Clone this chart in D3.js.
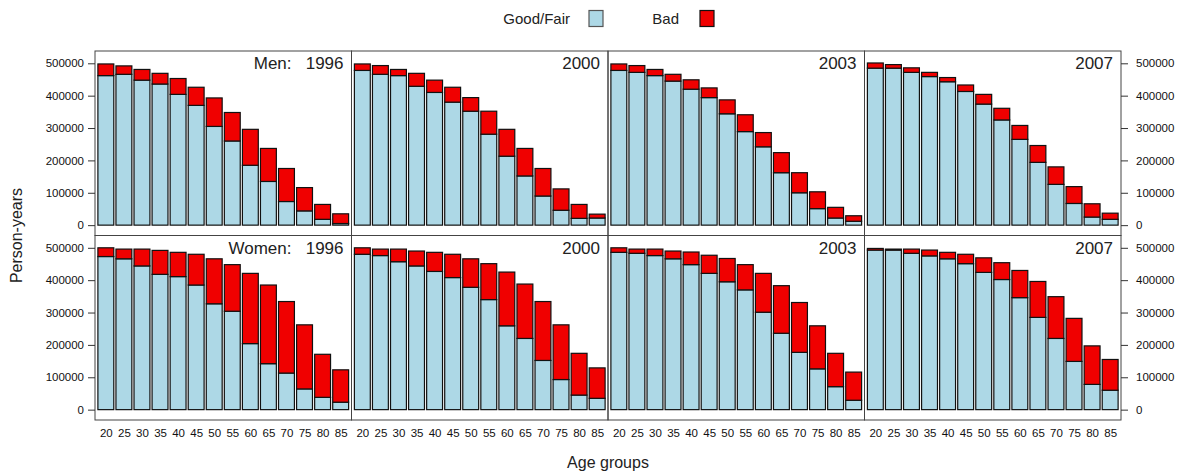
<!DOCTYPE html>
<html>
<head>
<meta charset="utf-8">
<script src="https://cdn.jsdelivr.net/npm/d3@7"></script>
<style>
  body { margin: 0; background: #fff; }
  svg { font-family: "Liberation Sans", Arial, sans-serif; }
</style>
</head>
<body>
<div id="chart"></div>
<script>
// age groups on the x axis
const ages = [20, 25, 30, 35, 40, 45, 50, 55, 60, 65, 70, 75, 80, 85];
const years = [1996, 2000, 2003, 2007];
const sexes = ["Men", "Women"];
const yTicks = [0, 100000, 200000, 300000, 400000, 500000];

// person-years
const men1996Good = [462000, 466000, 448000, 436000, 404000, 370000, 305000, 260000, 185000, 135000, 73000, 44000, 18000, 5000];
const men1996Bad = [36000, 26000, 33000, 33000, 49000, 56000, 88000, 88000, 111000, 102000, 102000, 72000, 46000, 30000];
const men2000Good = [478000, 466000, 462000, 429000, 410000, 380000, 352000, 281000, 213000, 152000, 90000, 46000, 21000, 22000];
const men2000Bad = [20000, 27000, 19000, 40000, 38000, 46000, 42000, 71000, 83000, 85000, 85000, 66000, 43000, 12000];
const men2003Good = [478000, 472000, 462000, 445000, 420000, 394000, 344000, 289000, 242000, 162000, 100000, 51000, 22000, 12000];
const men2003Bad = [20000, 21000, 19000, 21000, 29000, 30000, 43000, 52000, 44000, 62000, 62000, 52000, 33000, 17000];
const men2007Good = [485000, 485000, 472000, 459000, 443000, 413000, 374000, 325000, 265000, 194000, 126000, 67000, 25000, 18000];
const men2007Bad = [16000, 11000, 14000, 13000, 13000, 20000, 30000, 36000, 43000, 52000, 54000, 52000, 41000, 19000];
const women1996Good = [473000, 466000, 444000, 418000, 411000, 385000, 327000, 304000, 204000, 142000, 113000, 64000, 38000, 23000];
const women1996Bad = [27000, 30000, 52000, 74000, 75000, 95000, 139000, 144000, 217000, 243000, 221000, 198000, 133000, 100000];
const women2000Good = [480000, 476000, 457000, 444000, 427000, 408000, 378000, 340000, 259000, 220000, 152000, 93000, 45000, 35000];
const women2000Bad = [20000, 20000, 39000, 46000, 59000, 72000, 88000, 111000, 166000, 168000, 182000, 169000, 129000, 94000];
const women2003Good = [486000, 483000, 476000, 466000, 448000, 421000, 395000, 370000, 301000, 236000, 177000, 126000, 71000, 29000];
const women2003Bad = [14000, 13000, 20000, 24000, 39000, 56000, 72000, 78000, 120000, 147000, 154000, 133000, 103000, 87000];
const women2007Good = [493000, 493000, 483000, 475000, 466000, 451000, 424000, 402000, 346000, 285000, 220000, 149000, 78000, 60000];
const women2007Bad = [5000, 3000, 13000, 18000, 20000, 29000, 45000, 52000, 84000, 111000, 129000, 133000, 119000, 95000];

const series = {
    Men: {
        1996: [men1996Good, men1996Bad], 2000: [men2000Good, men2000Bad],
        2003: [men2003Good, men2003Bad], 2007: [men2007Good, men2007Bad]
    },
    Women: {
        1996: [women1996Good, women1996Bad], 2000: [women2000Good, women2000Bad],
        2003: [women2003Good, women2003Bad], 2007: [women2007Good, women2007Bad]
    }
};

const keys = ["good", "bad"];
const labels = { good: "Good/Fair", bad: "Bad" };
const colors = { good: "#add8e6", bad: "#f00000" };

const W = 1183, H = 473;
const padLeft = 95, padTop = 51;
const panelW = 1026 / 4, panelH = 184.5;

const svg = d3.select("#chart").append("svg")
    .attr("width", W)
    .attr("height", H);

const x = d3.scaleLinear().domain([0.4, 14.6]).range([0, panelW]);
const y = d3.scaleLinear().domain([-32000, 538000]).range([panelH, 0]);
const barW = (x(1) - x(0)) * 0.88;

const stack = d3.stack().keys(keys);

sexes.forEach((sex, r) => {
    years.forEach((year, c) => {
        const [good, bad] = series[sex][year];
        const rows = ages.map((a, i) => ({ age: a, idx: i + 1, good: good[i], bad: bad[i] }));
        const layers = stack(rows);

        const g = svg.append("g")
            .attr("transform", `translate(${padLeft + c * panelW}, ${padTop + r * panelH})`);

        layers.forEach(layer => {
            g.append("g").selectAll("rect")
                .data(layer)
                .join("rect")
                .attr("x", d => x(d.data.idx) - barW / 2)
                .attr("width", barW)
                .attr("y", d => y(d[1]))
                .attr("height", d => y(d[0]) - y(d[1]))
                .attr("fill", colors[layer.key])
                .attr("stroke", "#111")
                .attr("stroke-width", 1.2);
        });

        // panel frame
        g.append("rect")
            .attr("width", panelW)
            .attr("height", panelH)
            .attr("fill", "none")
            .attr("stroke", "#444")
            .attr("stroke-width", 1);

        // strip text in the corner
        g.append("text")
            .attr("x", panelW - 8)
            .attr("y", 18)
            .attr("text-anchor", "end")
            .style("white-space", "pre")
            .attr("font-size", 17)
            .attr("fill", "#222")
            .text(c === 0 ? `${sex}:   ${year}` : `${year}`);

        if (c === 0) {
            const ax = g.append("g").call(d3.axisLeft(y).tickValues(yTicks).tickSize(7).tickPadding(4).tickFormat(d3.format("d")));
            ax.select(".domain").remove();
        }
        if (c === 3) {
            const ax = g.append("g").attr("transform", `translate(${panelW},0)`)
                .call(d3.axisRight(y).tickValues(yTicks).tickSize(7).tickPadding(8).tickFormat(d3.format("d")));
            ax.select(".domain").remove();
        }
        if (r === 1) {
            const ax = g.append("g").attr("transform", `translate(0,${panelH})`)
                .call(d3.axisBottom(x).tickValues(d3.range(1, 15)).tickSize(0).tickPadding(9)
                    .tickFormat(i => ages[i - 1]));
            ax.select(".domain").remove();
        }
    });
});

svg.selectAll(".tick text")
    .attr("font-size", 11.5)
    .attr("font-family", "Liberation Sans, Arial, sans-serif")
    .attr("fill", "#111");
svg.selectAll(".tick line").attr("stroke", "#333");

// axis titles
svg.append("text")
    .attr("transform", `translate(22, ${padTop + panelH}) rotate(-90)`)
    .attr("text-anchor", "middle")
    .attr("font-size", 16)
    .attr("fill", "#222")
    .text("Person-years");

svg.append("text")
    .attr("x", padLeft + 2 * panelW)
    .attr("y", 468)
    .attr("text-anchor", "middle")
    .attr("font-size", 16)
    .attr("fill", "#222")
    .text("Age groups");

// legend
const legend = [
    { key: "good", tx: 570, bx: 589, stroke: "#555" },
    { key: "bad", tx: 679, bx: 700, stroke: "#111" }
];
legend.forEach(l => {
    svg.append("text")
        .attr("x", l.tx)
        .attr("y", 24)
        .attr("text-anchor", "end")
        .attr("font-size", 15)
        .attr("fill", "#222")
        .text(labels[l.key]);
    svg.append("rect")
        .attr("x", l.bx)
        .attr("y", 10.5)
        .attr("width", 14)
        .attr("height", 16)
        .attr("fill", colors[l.key])
        .attr("stroke", l.stroke)
        .attr("stroke-width", 1.2);
});
</script>
</body>
</html>
